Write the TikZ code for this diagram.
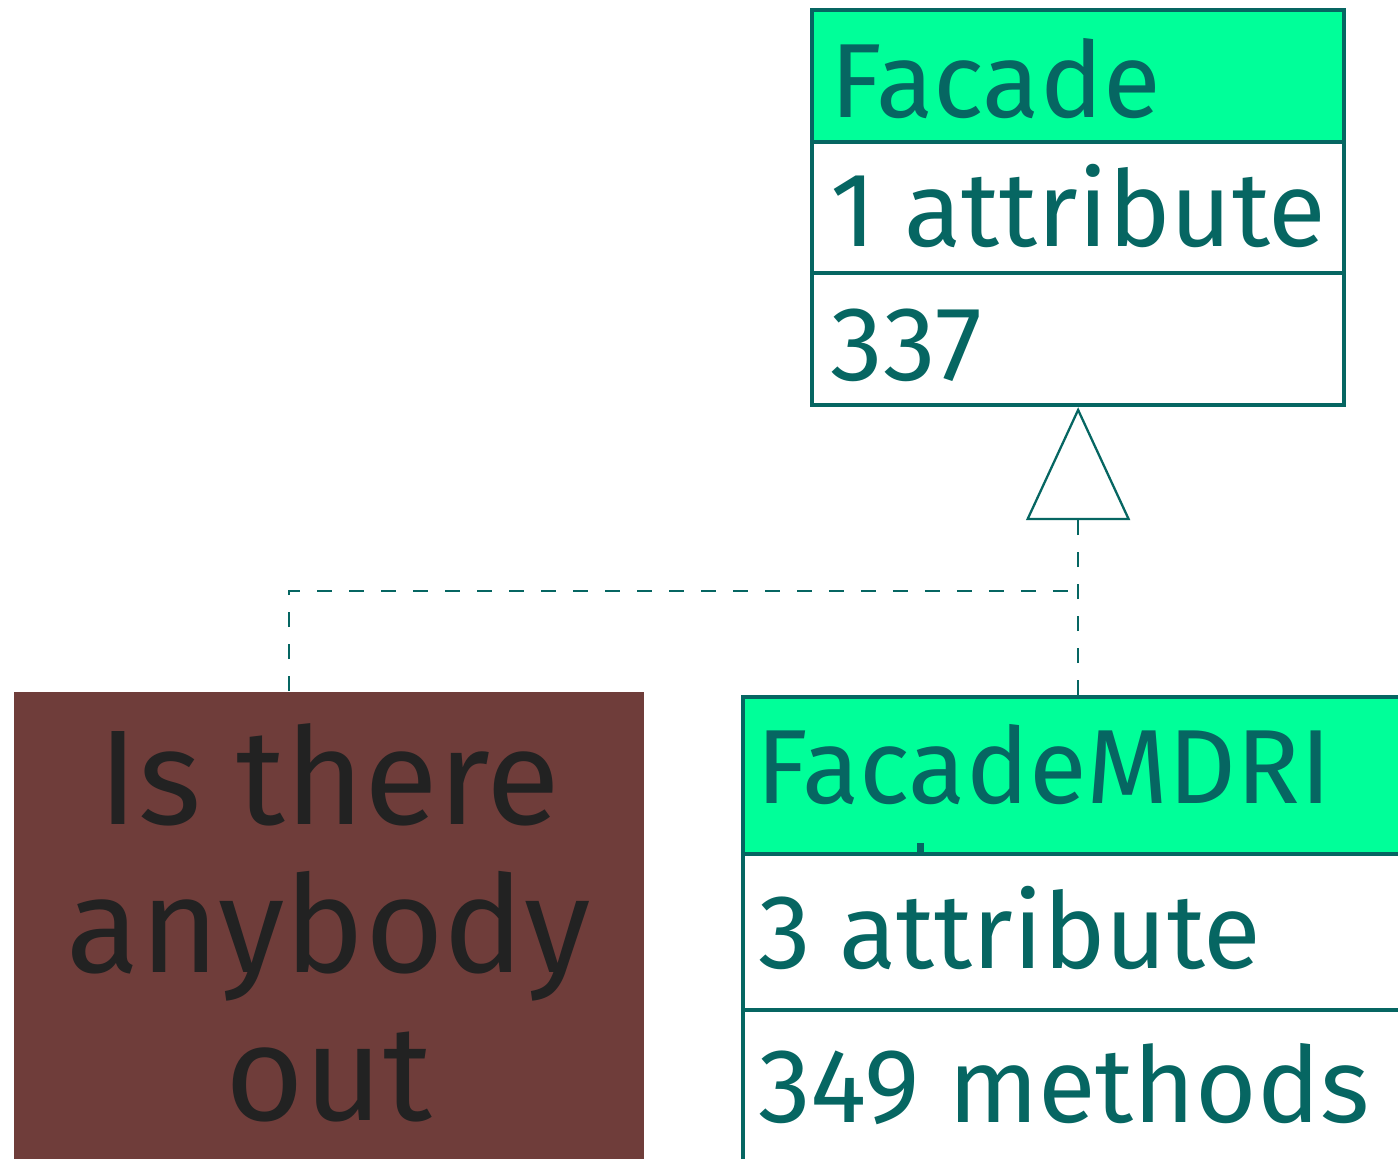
\documentclass[tikz,border=0pt]{standalone}
\usepackage{fontspec}
\setmainfont{Fira Sans}
\usetikzlibrary{arrows.meta}
\definecolor{headgreen}{RGB}{0,255,153}
\definecolor{lineteal}{RGB}{6,102,98}
\definecolor{notebrown}{RGB}{111,61,58}
\definecolor{notetext}{RGB}{34,34,34}

\begin{document}
\begin{tikzpicture}[
  classrow/.style={draw=lineteal, line width=1.2pt, fill=white, anchor=north west, inner sep=0pt},
  classhead/.style={classrow, fill=headgreen},
  classtext/.style={anchor=base west, inner sep=0pt, text=lineteal, font=\fontsize{30}{36}\selectfont},
  realize/.style={draw=lineteal, line width=0.65pt, dash pattern=on 0.15cm off 0.17cm}
]
\useasboundingbox (0,0) rectangle (13.98,-11.58);
\clip (0,0) rectangle (13.98,-11.58);

% Facade class
\node[classhead, minimum width=5.32cm, minimum height=1.32cm] (facade) at (8.10,-0.08) {};
\node[classrow, minimum width=5.32cm, minimum height=1.31cm] (facadeattr) at (8.10,-1.40) {};
\node[classrow, minimum width=5.32cm, minimum height=1.32cm] (facadeops) at (8.10,-2.71) {};
\node[classtext] (facadename) at (8.30,-1.18) {Facade};
\node[classtext] (facadeattrtext) at (8.30,-2.47) {1 attribute};
\node[classtext] (facadeopstext) at (8.30,-3.80) {337};

% FacadeMDRI class
\node[classhead, minimum width=7.00cm, minimum height=1.57cm] (mdri) at (7.41,-6.95) {};
\node[classrow, minimum width=7.00cm, minimum height=1.56cm] (mdriattr) at (7.41,-8.52) {};
\node[classrow, minimum width=7.00cm, minimum height=1.80cm] (mdriops) at (7.41,-10.08) {};
\node[classtext] (mdriname) at (7.56,-8.03) {FacadeMDRI};
\node[classtext] (mdriattrtext) at (7.58,-9.68) {3 attribute};
\node[classtext] (mdriopstext) at (7.58,-11.22) {349 methods};
\fill[lineteal] (9.17,-8.43) rectangle (9.24,-8.52);

% Note
\node[fill=notebrown, minimum width=6.30cm, minimum height=4.80cm, anchor=north west, inner sep=0pt] (note) at (0.13,-6.91) {};
\node[anchor=base, align=center, text=notetext, font=\fontsize{38.4}{42}\selectfont] (notetext) at (3.29,-11.20) {Is there\\anybody\\out};

% Realization
\coordinate (join) at (10.76,-5.91);
\coordinate (notetop) at (2.89,-6.91);
\draw[realize] (notetop) |- (join);
\draw[realize, -{Triangle[open, length=1.13cm, width=1.04cm, line width=0.65pt, fill=white]}] (mdri.north -| facade.south) -- (facadeops.south);
\end{tikzpicture}
\end{document}
